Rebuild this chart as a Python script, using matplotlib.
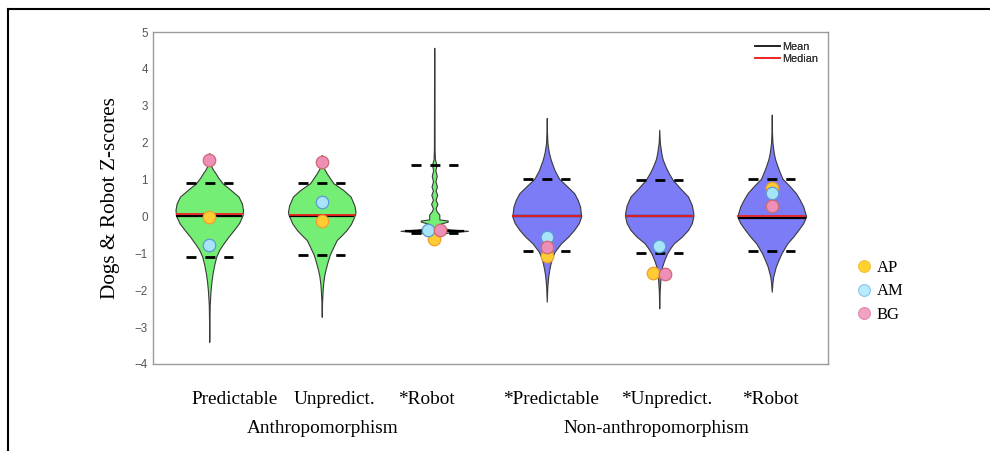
import matplotlib
matplotlib.use("Agg")
import matplotlib.pyplot as plt
from matplotlib.lines import Line2D
import numpy as np

# ---------------- data ----------------
groups = ["Predictable", "Unpredict.", "*Robot", "*Predictable", "*Unpredict.", "*Robot"]
conditions = ["Anthropomorphism", "Non-anthropomorphism"]

# violin density profiles (score level, half-width of density)
v1_y = [-3.40, -2.8, -2.4, -2.0, -1.75, -1.54, -1.3, -1.09, -0.9, -0.77, -0.55, -0.37, -0.18, 0.03, 0.18, 0.35, 0.54, 0.72, 0.90, 1.05, 1.17, 1.26, 1.35, 1.5, 1.72]
v1_d = [0.0, 0.002, 0.004, 0.012, 0.02, 0.03, 0.045, 0.062, 0.09, 0.118, 0.17, 0.218, 0.265, 0.296, 0.30, 0.29, 0.26, 0.19, 0.118, 0.08, 0.056, 0.035, 0.02, 0.008, 0.0]

v2_y = [-2.72, -2.3, -2.0, -1.81, -1.6, -1.45, -1.25, -1.04, -0.85, -0.64, -0.5, -0.37, -0.2, 0.04, 0.13, 0.3, 0.54, 0.72, 0.90, 1.05, 1.17, 1.31, 1.45, 1.67]
v2_d = [0.0, 0.003, 0.008, 0.013, 0.022, 0.033, 0.05, 0.071, 0.1, 0.133, 0.18, 0.22, 0.26, 0.295, 0.30, 0.29, 0.256, 0.19, 0.104, 0.07, 0.044, 0.018, 0.007, 0.0]

v3_y = [-0.56, -0.5, -0.44, -0.39, -0.35, -0.3, -0.2, -0.14, -0.11, -0.08, 0.05, 0.15, 0.22, 0.34, 0.45, 0.585, 0.7, 0.81, 0.95, 1.10, 1.25, 1.40, 1.55, 1.8, 4.57]
v3_d = [0.0, 0.03, 0.12, 0.30, 0.14, 0.06, 0.05, 0.12, 0.12, 0.045, 0.045, 0.02, 0.012, 0.028, 0.012, 0.026, 0.012, 0.024, 0.011, 0.022, 0.01, 0.02, 0.006, 0.003, 0.001]

v4_y = [-2.31, -1.9, -1.63, -1.45, -1.27, -1.1, -0.95, -0.73, -0.55, -0.36, -0.18, 0.0, 0.27, 0.45, 0.63, 0.82, 1.02, 1.25, 1.53, 1.75, 1.99, 2.3, 2.67]
v4_d = [0.0, 0.005, 0.013, 0.022, 0.034, 0.05, 0.071, 0.126, 0.19, 0.244, 0.285, 0.306, 0.296, 0.275, 0.244, 0.18, 0.11, 0.07, 0.036, 0.018, 0.006, 0.002, 0.0]

v5_y = [-2.49, -2.0, -1.72, -1.55, -1.36, -1.18, -1.0, -0.85, -0.73, -0.55, -0.365, -0.18, 0.0, 0.09, 0.3, 0.54, 0.75, 0.99, 1.17, 1.35, 1.55, 1.72, 2.0, 2.35]
v5_d = [0.0, 0.004, 0.01, 0.017, 0.025, 0.045, 0.07, 0.1, 0.129, 0.2, 0.256, 0.29, 0.303, 0.303, 0.29, 0.256, 0.19, 0.12, 0.085, 0.056, 0.03, 0.018, 0.005, 0.0]

v6_y = [-2.04, -1.8, -1.63, -1.5, -1.36, -1.18, -1.0, -0.73, -0.55, -0.365, -0.18, 0.0, 0.27, 0.45, 0.63, 0.82, 1.02, 1.17, 1.35, 1.55, 1.72, 2.0, 2.3, 2.76]
v6_d = [0.0, 0.006, 0.013, 0.024, 0.036, 0.06, 0.086, 0.138, 0.19, 0.237, 0.28, 0.306, 0.28, 0.25, 0.215, 0.16, 0.096, 0.075, 0.052, 0.03, 0.018, 0.006, 0.002, 0.0]

means = [0.0, 0.0, -0.40, 0.0, 0.0, -0.03]
medians = [0.07, 0.04, -0.40, 0.0, 0.01, 0.01]
sd_upper = [0.90, 0.90, 1.40, 1.02, 0.99, 1.02]
sd_lower = [-1.10, -1.04, -0.46, -0.95, -0.98, -0.95]

# individual subject scores
AP = [-0.02, -0.11, -0.62, -1.06, -1.52, 0.77]
AM = [-0.77, 0.40, -0.38, -0.55, -0.79, 0.63]
BG = [1.53, 1.47, -0.38, -0.82, -1.57, 0.29]
yticks = [-4, -3, -2, -1, 0, 1, 2, 3, 4, 5]

# ---------------- style ----------------
W, H = 990, 451
fig = plt.figure(figsize=(W / 100, H / 100), dpi=100)
ax = fig.add_axes([153 / W, 1 - 364 / H, (828 - 153) / W, (364 - 32) / H])

serif = "Liberation Serif"
sans = "Liberation Sans"
green = "#74EE74"
blue = "#7C7CF6"
fills = [green, green, green, blue, blue, blue]
outline = "#3a3a3a"
median_z = [3.2, 3.2, 2.9, 3.2, 3.2, 3.2]

profiles_y = [v1_y, v2_y, v3_y, v4_y, v5_y, v6_y]
profiles_d = [v1_d, v2_d, v3_d, v4_d, v5_d, v6_d]
positions = np.arange(1, 7)

for i, (py, pd) in enumerate(zip(profiles_y, profiles_d)):
    x0 = positions[i]
    py = np.asarray(py)
    pd = np.asarray(pd)
    ax.fill_betweenx(py, x0 - pd, x0 + pd, facecolor=fills[i], edgecolor=outline,
                     linewidth=0.8, zorder=2)
    # mean and median lines spanning violin width
    wm = np.interp(means[i], py, pd)
    wd = np.interp(medians[i], py, pd)
    ax.plot([x0 - wm, x0 + wm], [means[i]] * 2, color="black", lw=1.6, zorder=3,
            solid_capstyle="butt")
    ax.plot([x0 - wd, x0 + wd], [medians[i]] * 2, color="#EE2222", lw=1.3,
            zorder=median_z[i], solid_capstyle="butt")
    for yy in (sd_upper[i], sd_lower[i]):
        ax.plot([x0 - 0.21, x0 + 0.21], [yy, yy], color="black", lw=2.0,
                linestyle=(0, (3.6, 3.2)), dash_capstyle="butt", zorder=4)

jitter_AP = [0, 0, 0, 0, -0.057, 0]
jitter_AM = [0, 0, -0.053, 0, 0, 0]
jitter_BG = [0, 0, 0.053, 0, 0.05, 0]

dot_styles = {
    "AP": dict(mfc="#FFCC33", mec="#F0A030"),
    "AM": dict(mfc="#A8E4F8", mec="#5B9BD5"),
    "BG": dict(mfc="#EE8FB8", mec="#D06A70"),
}
for name, vals, jit in (("AP", AP, jitter_AP), ("AM", AM, jitter_AM), ("BG", BG, jitter_BG)):
    ax.plot(positions + np.array(jit), vals, linestyle="none", marker="o", ms=9,
            mew=0.9, zorder=5, **dot_styles[name])

ax.set_xlim(0.5, 6.5)
ax.set_ylim(-4, 5)
ax.set_yticks(yticks)
ax.set_xticks([])
ax.tick_params(axis="y", length=0, pad=3.6, labelsize=8.4, labelcolor="#555555")
for lab in ax.get_yticklabels():
    lab.set_fontfamily(sans)
for s in ax.spines.values():
    s.set_color("#9a9a9a")
    s.set_linewidth(1.0)

# Mean / Median legend
mm_handles = [Line2D([], [], color="#222222", lw=1.2), Line2D([], [], color="#EE2222", lw=1.2)]
leg1 = ax.legend(mm_handles, ["Mean", "Median"], loc="upper right",
                 bbox_to_anchor=(818 / W, 1 - 42 / H), bbox_transform=fig.transFigure,
                 frameon=False, prop={"family": sans, "size": 7.8},
                 handlelength=2.3, handletextpad=0.15, labelspacing=0.2,
                 borderpad=0, borderaxespad=0)
for t in leg1.get_texts():
    t.set_color("#333333")
ax.add_artist(leg1)

# subject legend
sub_handles = [Line2D([], [], linestyle="none", marker="o", ms=8.5, mew=0.8,
                      mfc="#FFD22E", mec="#F5C040"),
               Line2D([], [], linestyle="none", marker="o", ms=8.5, mew=0.8,
                      mfc="#B8ECFC", mec="#8CC4E6"),
               Line2D([], [], linestyle="none", marker="o", ms=8.5, mew=0.8,
                      mfc="#F2A2C2", mec="#E08AB0")]
fig.legend(sub_handles, ["AP", "AM", "BG"], loc="upper left",
           bbox_to_anchor=(857 / W, 1 - 260 / H), frameon=False,
           prop={"family": serif, "size": 12}, handlelength=0.8,
           handletextpad=0.4, labelspacing=0.44, borderpad=0, borderaxespad=0)

# group labels
label_x = [235, 334, 426, 551, 667, 770]
for g, xc in zip(groups, label_x):
    fig.text(xc / W, 1 - 404 / H, g, ha="center", va="baseline",
             fontfamily=serif, fontsize=13.9)
for c, xc in zip(conditions, [323, 656]):
    fig.text(xc / W, 1 - 433 / H, c, ha="center", va="baseline",
             fontfamily=serif, fontsize=13.9)

fig.text(110 / W, 1 - 198 / H, "Dogs & Robot Z-scores", rotation=90, ha="center",
         va="center", fontfamily=serif, fontsize=15.3)

# outer frame
fig.add_artist(Line2D([8 / W, 8 / W], [0, 1 - 9 / H], transform=fig.transFigure,
                      color="black", lw=1.5))
fig.add_artist(Line2D([8 / W, 1], [1 - 9 / H, 1 - 9 / H], transform=fig.transFigure,
                      color="black", lw=1.5))

fig.savefig("out.png", dpi=100)
